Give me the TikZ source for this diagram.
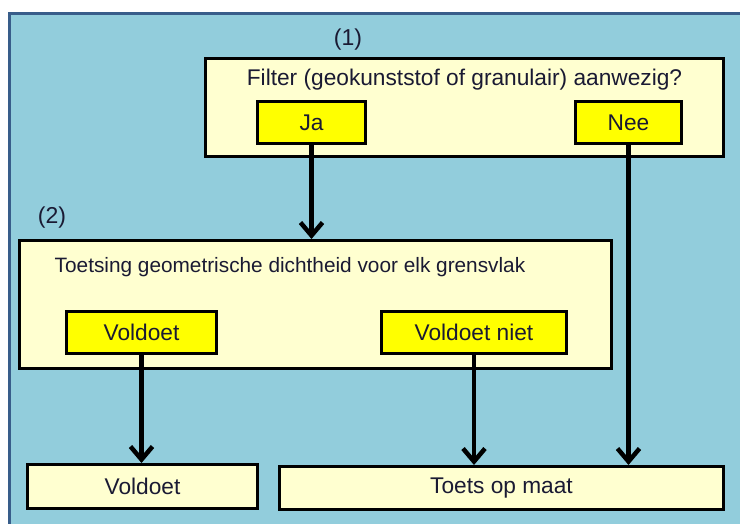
\documentclass[tikz,border=0pt]{standalone}
\usepackage{fontspec}
\setmainfont{Liberation Sans}
\usetikzlibrary{arrows.meta}
\definecolor{bgblue}{HTML}{92CDDC}
\definecolor{frameblue}{HTML}{385D8A}
\definecolor{cream}{HTML}{FFFFD0}
\definecolor{yel}{HTML}{FFFF00}
\definecolor{ink}{HTML}{1A1A33}
\begin{document}
\begin{tikzpicture}[x=1pt,y=-1pt,
  fnt/.style={font=\fontsize{22.7}{26}\selectfont, text=ink},
  box/.style={draw=black, line width=3pt, fill=cream, inner sep=0pt, fnt},
  choice/.style={box, fill=yel},
  txt/.style={fnt, inner sep=0pt},
  conn/.style={line width=4.5pt, -{Straight Barb[length=13pt,width=22pt]}}]
\useasboundingbox (0,0) rectangle (740,524);
\fill[white] (0,0) rectangle (740,524);
\draw[frameblue, line width=3pt, fill=bgblue] (9.5,13.5) rectangle (760,545);
% box 1
\node[box, minimum width=518pt, minimum height=98pt] (q1) at (464.5,107.5) {};
\node[txt] (q1t) at (464.5,80) {Filter (geokunststof of granulair) aanwezig?};
\node[txt, font=\fontsize{23}{26}\selectfont] (l1) at (348,40) {(1)};
\node[choice, minimum width=108pt, minimum height=42pt] (ja) at (311.5,122.5) {Ja};
\node[choice, minimum width=106pt, minimum height=42pt] (nee) at (628.5,122.5) {Nee};
% box 2
\node[box, minimum width=592pt, minimum height=128pt] (q2) at (315.5,304.5) {};
\node[txt, font=\fontsize{20.8}{24}\selectfont] (q2t) at (290,267) {Toetsing geometrische dichtheid voor elk grensvlak};
\node[txt, font=\fontsize{23}{26}\selectfont] (l2) at (52,218) {(2)};
\node[choice, minimum width=150pt, minimum height=42pt] (vo) at (141.5,332.5) {Voldoet};
\node[choice, minimum width=185pt, minimum height=42pt] (vn) at (474,332.5) {Voldoet niet};
% results
\node[box, minimum width=230pt, minimum height=44pt] (rv) at (142.5,486.5) {Voldoet};
\node[box, minimum width=444pt, minimum height=43pt] (rt) at (501.5,488) {Toets op maat};
% connectors
\draw[conn] (ja.south) -- (ja.south |- q2.north);
\draw[conn] (vo.south) -- (vo.south |- rv.north);
\draw[conn] (vn.south) -- (vn.south |- rt.north);
\draw[conn] (nee.south) -- (nee.south |- rt.north);
\end{tikzpicture}
\end{document}
